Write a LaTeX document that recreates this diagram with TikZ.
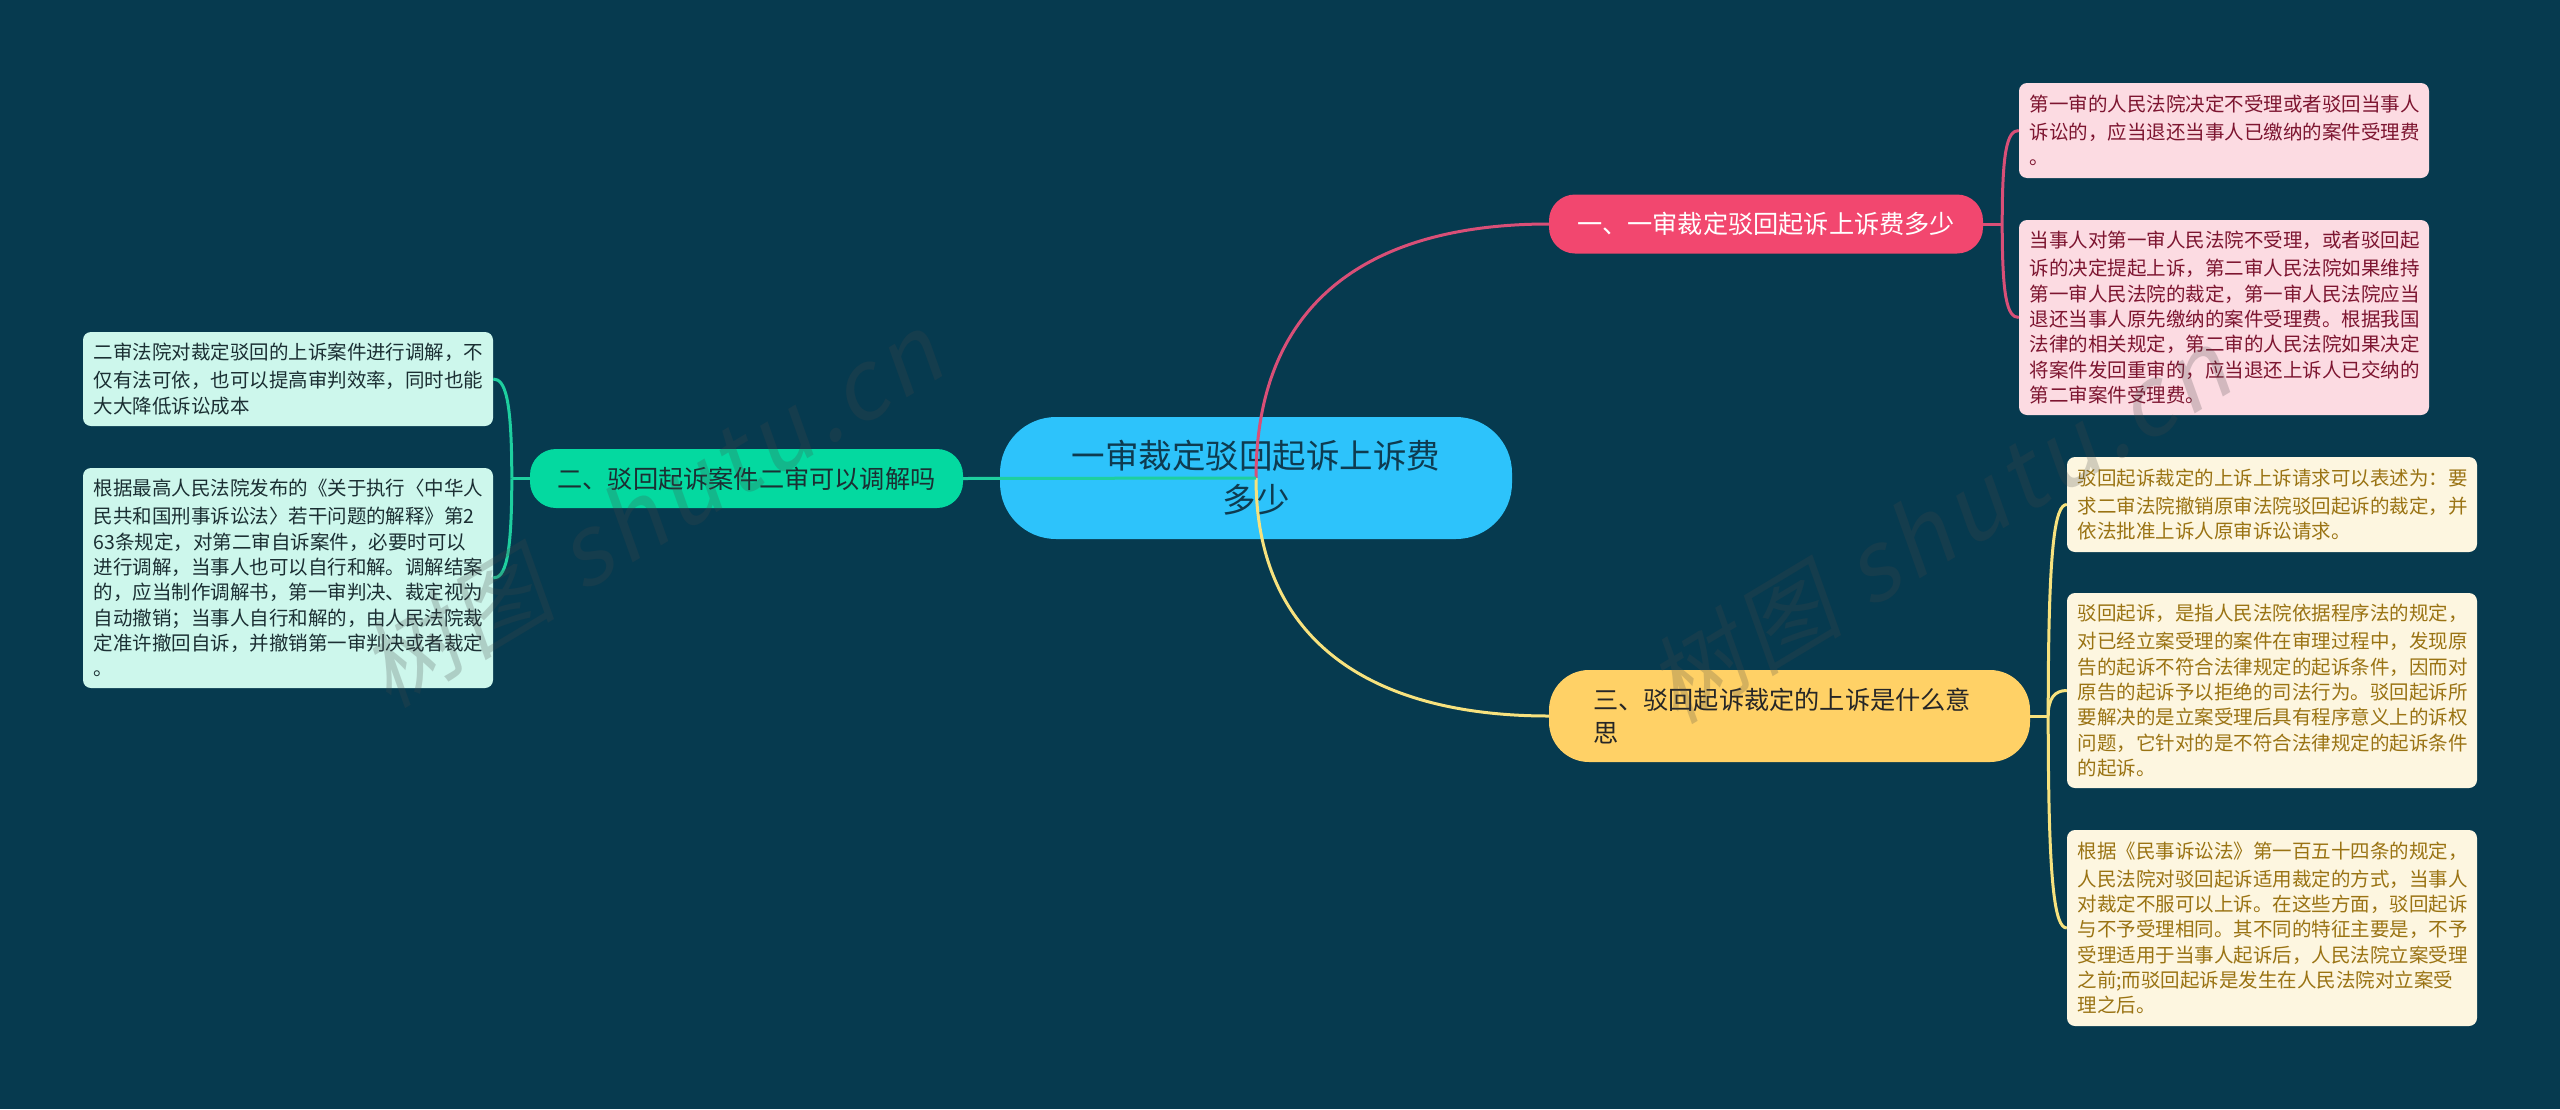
\documentclass[tikz,border=0pt]{standalone}
\usepackage{fontspec}
\setmainfont{Noto Sans CJK SC}
\newfontfamily\markfont[FakeSlant=0.2,LetterSpace=6]{Noto Sans CJK SC}
\usepackage{xcolor}

\definecolor{bgcol}{HTML}{063A4F}
\definecolor{rootcol}{HTML}{2DC3FB}
\definecolor{roottext}{HTML}{0E3B50}
\definecolor{pinkcol}{HTML}{F2476F}
\definecolor{pinkline}{HTML}{D94F77}
\definecolor{pinkleaf}{HTML}{FCDBE2}
\definecolor{pinktext}{HTML}{7D1530}
\definecolor{greencol}{HTML}{04D9A0}
\definecolor{greenline}{HTML}{1ECF9F}
\definecolor{greenleaf}{HTML}{CDF7EC}
\definecolor{greentext}{HTML}{1B2F33}
\definecolor{yellowcol}{HTML}{FFD166}
\definecolor{yellowline}{HTML}{F7E27E}
\definecolor{yellowleaf}{HTML}{FDF6E0}
\definecolor{yellowtext}{HTML}{9A7313}

\tikzset{
	rootnode/.style={fill=rootcol,text=roottext,rounded corners=56pt,minimum width=512pt,minimum height=122pt,inner sep=0pt,align=center,font=\fontsize{33.5}{44}\selectfont},
	branchnode/.style={rounded corners=26pt,minimum height=59pt,inner sep=0pt,align=center,font=\fontsize{25.2}{33}\selectfont},
	leafnode/.style={rounded corners=8pt,text width=389pt,inner xsep=10.5pt,inner ysep=0pt,align=left,font=\fontsize{19.5}{25.3}\selectfont,execute at begin node={\vspace*{3pt}}},
	pinkbox/.style={leafnode,fill=pinkleaf,text=pinktext},
	greenbox/.style={leafnode,fill=greenleaf,text=greentext},
	yellowbox/.style={leafnode,fill=yellowleaf,text=yellowtext},
	linkline/.style={line width=3pt},
	markword/.style={text=black!72,opacity=0.23,rotate=31,font=\markfont\fontsize{96}{96}\selectfont}
}

\begin{document}
\begin{tikzpicture}[x=1pt,y=-1pt]
	
	\useasboundingbox (0,0) rectangle (2560,1109);
	\fill[bgcol] (0,0) rectangle (2560,1109);
	
	\node[rootnode] (root) at (1256,478) {一审裁定驳回起诉上诉费\\多少};
	
	% branches
	\node[branchnode,fill=pinkcol,text=white,minimum width=434pt] (pink) at (1766,224) {一、一审裁定驳回起诉上诉费多少};
	\node[branchnode,fill=greencol,text=greentext,minimum width=433pt] (green) at (746.5,478.5) {二、驳回起诉案件二审可以调解吗};
	\node[branchnode,fill=yellowcol,text=black!85,rounded corners=40pt,minimum height=92pt,text width=393pt,inner xsep=44pt,align=left] (yellow) at (1789.5,716) {三、驳回起诉裁定的上诉是什么意\\思};
	
	% leaves on the right, pink
	\node[pinkbox,minimum height=95pt] (pinka) at (2224,130.5) {第一审的人民法院决定不受理或者驳回当事人\\诉讼的，应当退还当事人已缴纳的案件受理费\\。};
	\node[pinkbox,minimum height=195pt] (pinkb) at (2224,317.5) {当事人对第一审人民法院不受理，或者驳回起\\诉的决定提起上诉，第二审人民法院如果维持\\第一审人民法院的裁定，第一审人民法院应当\\退还当事人原先缴纳的案件受理费。根据我国\\法律的相关规定，第二审的人民法院如果决定\\将案件发回重审的，应当退还上诉人已交纳的\\第二审案件受理费。};
	
	% leaves on the right, yellow
	\node[yellowbox,minimum height=95pt] (yellowa) at (2272,504.5) {驳回起诉裁定的上诉上诉请求可以表述为：要\\求二审法院撤销原审法院驳回起诉的裁定，并\\依法批准上诉人原审诉讼请求。};
	\node[yellowbox,minimum height=195pt] (yellowb) at (2272,690.5) {驳回起诉，是指人民法院依据程序法的规定，\\对已经立案受理的案件在审理过程中，发现原\\告的起诉不符合法律规定的起诉条件，因而对\\原告的起诉予以拒绝的司法行为。驳回起诉所\\要解决的是立案受理后具有程序意义上的诉权\\问题，它针对的是不符合法律规定的起诉条件\\的起诉。};
	\node[yellowbox,minimum height=196pt] (yellowc) at (2272,928) {根据《民事诉讼法》第一百五十四条的规定，\\人民法院对驳回起诉适用裁定的方式，当事人\\对裁定不服可以上诉。在这些方面，驳回起诉\\与不予受理相同。其不同的特征主要是，不予\\受理适用于当事人起诉后，人民法院立案受理\\之前;而驳回起诉是发生在人民法院对立案受\\理之后。};
	
	% leaves on the left
	\node[greenbox,minimum height=94pt] (greena) at (288,379) {二审法院对裁定驳回的上诉案件进行调解，不\\仅有法可依，也可以提高审判效率，同时也能\\大大降低诉讼成本};
	\node[greenbox,minimum height=220pt] (greenb) at (288,578) {根据最高人民法院发布的《关于执行〈中华人\\民共和国刑事诉讼法〉若干问题的解释》第2\\63条规定，对第二审自诉案件，必要时可以\\进行调解，当事人也可以自行和解。调解结案\\的，应当制作调解书，第一审判决、裁定视为\\自动撤销；当事人自行和解的，由人民法院裁\\定准许撤回自诉，并撤销第一审判决或者裁定\\。};
	
	% links from the root
	\draw[linkline,pinkline] (root.center) .. controls +(0,-180) and +(-175,0) .. (pink.west);
	\draw[linkline,yellowline] (root.center) .. controls +(0,165) and +(-175,0) .. (yellow.west);
	\draw[linkline,greenline] (root.center) -- (green.east);
	
	% forks to the leaves
	\draw[linkline,pinkline] (pink.east) -- ++(19,0) coordinate (pinkfork);
	\draw[linkline,pinkline] (pinkfork) .. controls +(0,-72) and +(-12,0) .. (pinka.west);
	\draw[linkline,pinkline] (pinkfork) .. controls +(0,72) and +(-12,0) .. (pinkb.west);
	
	\draw[linkline,greenline] (green.west) -- ++(-18,0) coordinate (greenfork);
	\draw[linkline,greenline] (greenfork) .. controls +(0,-80) and +(12,0) .. (greena.east);
	\draw[linkline,greenline] (greenfork) .. controls +(0,80) and +(12,0) .. (greenb.east);
	
	\draw[linkline,yellowline] (yellow.east) -- ++(18,0) coordinate (yellowfork);
	\draw[linkline,yellowline] (yellowfork) .. controls +(0,-170) and +(-12,0) .. (yellowa.west);
	\draw[linkline,yellowline] (yellowfork) .. controls +(0,-18) and +(-12,0) .. (yellowb.west);
	\draw[linkline,yellowline] (yellowfork) .. controls +(0,170) and +(-12,0) .. (yellowc.west);
	
	% watermark
	\node[markword] (marka) at (651,510) {树图 shutu.cn};
	\node[markword] (markb) at (1938,526) {树图 shutu.cn};
	
\end{tikzpicture}
\end{document}
